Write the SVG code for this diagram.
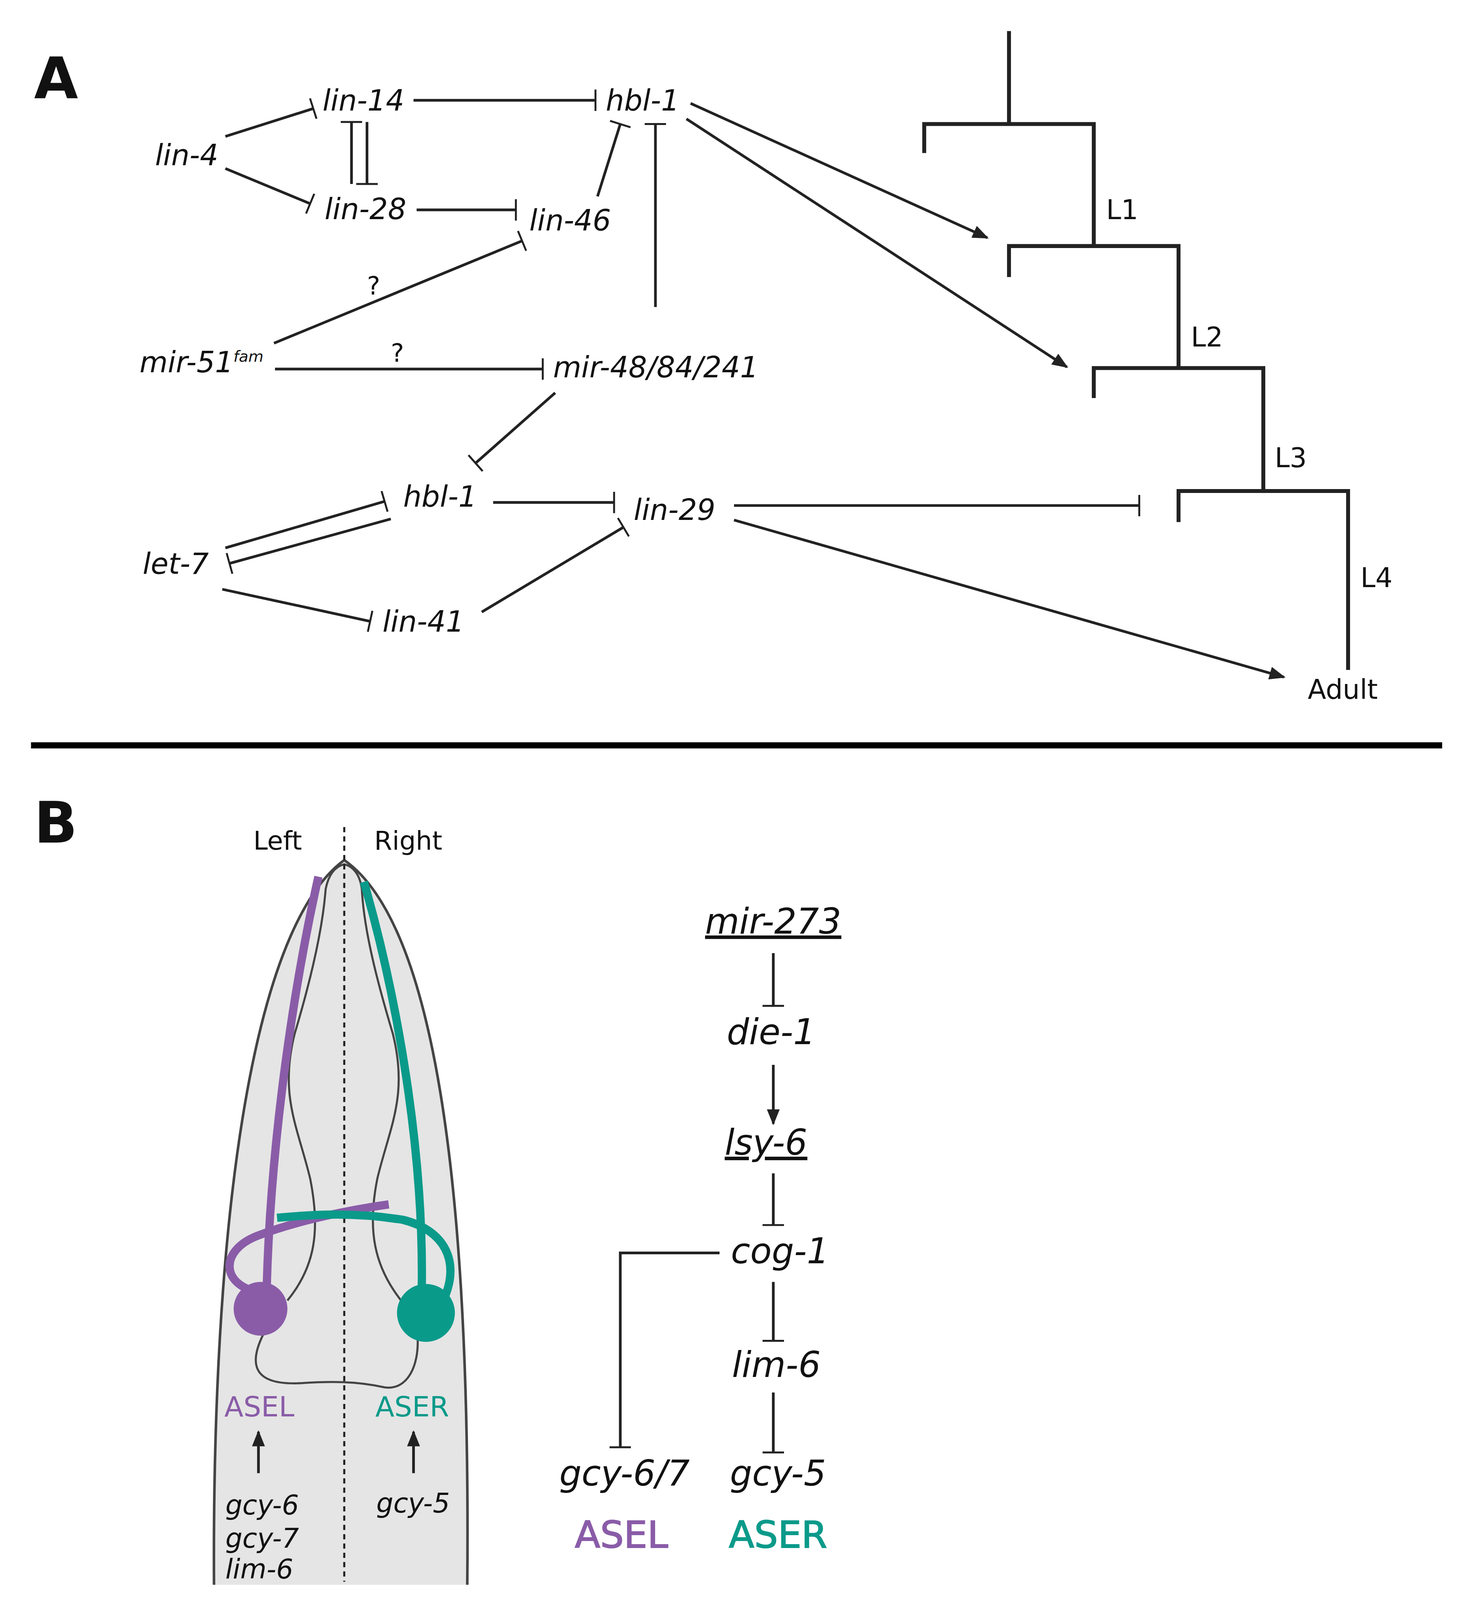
<svg xmlns="http://www.w3.org/2000/svg" width="3758" height="4135" viewBox="0 0 3758 4135">
<style>
.t{font-family:"DejaVu Sans",sans-serif;fill:#111}
.i{font-style:italic;font-size:28px}
.r{font-size:26px}
.ln{stroke:#222;stroke-width:2.6;fill:none}
.tr{stroke:#222;stroke-width:3.8;fill:none}
.p{fill:#8a5ca8}.g{fill:#0a9a8a}
</style>
<defs>
<marker id="ah" viewBox="0 0 10 10" refX="9" refY="5" markerWidth="6" markerHeight="6" orient="auto" markerUnits="strokeWidth"><path d="M0,1L10,5L0,9z" fill="#222"/></marker>
<marker id="bar" viewBox="0 0 4 10" refX="2" refY="5" markerWidth="3.2" markerHeight="8" orient="auto" markerUnits="strokeWidth"><path d="M2,0V10" stroke="#222" stroke-width="0.9"/></marker>
</defs>
<rect width="3758" height="4135" fill="#fff"/>
<g transform="scale(2.6465)">
<text class="t" x="33" y="95" font-size="55" font-weight="bold">A</text>
<text class="t" x="33" y="815" font-size="55" font-weight="bold">B</text>
<g id="nodesA" class="t i">
<text id="lin4" x="150" y="160">lin-4</text>
<text id="lin14" x="312" y="107">lin-14</text>
<text id="lin28" x="314" y="212">lin-28</text>
<text id="hbl1a" x="586" y="107">hbl-1</text>
<text id="lin46" x="512" y="223">lin-46</text>
<text id="mir51" x="135" y="360">mir-51<tspan font-size="15" dy="-10">fam</tspan></text>
<text id="mir48" x="535" y="365">mir-48/84/241</text>
<text id="hbl1b" x="390" y="490">hbl-1</text>
<text id="lin29" x="613" y="503">lin-29</text>
<text id="let7" x="138" y="555">let-7</text>
<text id="lin41" x="370" y="611">lin-41</text>
</g>
<g id="connectorsA">
<path class="ln" marker-end="url(#bar)" d="M218,132L303,105"/>
<path class="ln" marker-end="url(#bar)" d="M218,163L300,197"/>
<path class="ln" marker-end="url(#bar)" d="M340,178V118"/>
<path class="ln" marker-end="url(#bar)" d="M355,118V178"/>
<path class="ln" marker-end="url(#bar)" d="M400,97H576"/>
<path class="ln" marker-end="url(#bar)" d="M403,203H499"/>
<path class="ln" marker-end="url(#bar)" d="M578,190L600,120"/>
<path class="ln" marker-end="url(#bar)" d="M634,297V120"/>
<path class="ln" marker-end="url(#bar)" d="M265,332L505,233"/>
<path class="ln" marker-end="url(#bar)" d="M266,357H525"/>
<path class="ln" marker-end="url(#bar)" d="M537,380L460,448"/>
<path class="ln" marker-end="url(#bar)" d="M378,502L222,545"/>
<path class="ln" marker-end="url(#bar)" d="M218,530L372,485"/>
<path class="ln" marker-end="url(#bar)" d="M215,570L358,601"/>
<path class="ln" marker-end="url(#bar)" d="M477,486H594"/>
<path class="ln" marker-end="url(#bar)" d="M466,592L603,510"/>
<path class="ln" marker-end="url(#bar)" d="M710,489H1102"/>
<path class="ln" marker-end="url(#ah)" d="M710,503L1242,655"/>
<path class="ln" marker-end="url(#ah)" d="M668,100L955,230"/>
<path class="ln" marker-end="url(#ah)" d="M664,115L1032,355"/>
<text class="t" x="355" y="285" font-size="24">?</text>
<text class="t" x="378" y="350" font-size="24">?</text>
</g>
<g id="tree">
<path class="tr" d="M976,30V120M894,148V120H1058V238M976,268V238H1140V356M1058,385V356H1222V475M1140,505V475H1304V648"/>
<text class="t r" x="1070" y="212">L1</text>
<text class="t r" x="1152" y="335">L2</text>
<text class="t r" x="1233" y="452">L3</text>
<text class="t r" x="1316" y="568">L4</text>
<text class="t r" x="1265" y="676">Adult</text>
</g>
<path d="M30,721H1395" stroke="#000" stroke-width="6"/>
<g id="head">
<path d="M207,1533C205,1200 240,900 333,832C430,900 455,1200 452,1533" fill="#e5e5e5" stroke="#444" stroke-width="2.5"/>
<path d="M278,1258C305,1225 310,1190 300,1140C288,1090 270,1060 285,1000C300,950 312,900 315,860C318,845 325,838 333,836C341,838 348,845 350,860C352,900 365,950 380,1000C395,1060 377,1090 365,1140C355,1190 362,1225 388,1258" fill="none" stroke="#444" stroke-width="2"/>
<path d="M255,1290C240,1320 245,1340 290,1338C320,1336 345,1336 372,1342C395,1345 405,1320 404,1295" fill="none" stroke="#444" stroke-width="2"/>
<path d="M333,800V1530" stroke="#222" stroke-width="2" stroke-dasharray="5,4"/>
<path d="M258,1245C262,1100 285,950 308,848" stroke="#8a5ca8" stroke-width="8" fill="none"/>
<path d="M252,1250C215,1245 210,1210 250,1195C290,1180 340,1170 376,1165" stroke="#8a5ca8" stroke-width="8" fill="none"/>
<circle class="p" cx="252" cy="1266" r="26"/>
<path d="M408,1245C410,1100 380,950 352,853" stroke="#0a9a8a" stroke-width="8" fill="none"/>
<path d="M430,1255C445,1220 430,1190 390,1180C340,1172 300,1175 268,1178" stroke="#0a9a8a" stroke-width="8" fill="none"/>
<circle class="g" cx="412" cy="1270" r="28"/>
<text class="t" x="245" y="822" font-size="25">Left</text>
<text class="t" x="362" y="822" font-size="25">Right</text>
<text class="t p" x="217" y="1370" font-size="27">ASEL</text>
<text class="t g" x="363" y="1370" font-size="27">ASER</text>
<path class="ln" marker-end="url(#ah)" d="M250,1425V1385"/>
<path class="ln" marker-end="url(#ah)" d="M400,1425V1385"/>
<text class="t" font-style="italic" font-size="26" x="218" y="1465">gcy-6</text>
<text class="t" font-style="italic" font-size="26" x="218" y="1497">gcy-7</text>
<text class="t" font-style="italic" font-size="26" x="218" y="1527">lim-6</text>
<text class="t" font-style="italic" font-size="26" x="364" y="1463">gcy-5</text>
</g>
<g id="nodesB" class="t" font-style="italic" font-size="34">
<text x="682" y="903" text-decoration="underline">mir-273</text>
<text x="703" y="1010">die-1</text>
<text x="701" y="1117" text-decoration="underline">lsy-6</text>
<text x="707" y="1222">cog-1</text>
<text x="708" y="1332">lim-6</text>
<text x="541" y="1437">gcy-6/7</text>
<text x="706" y="1437">gcy-5</text>
</g>
<text class="t p" x="556" y="1497" font-size="36" stroke="#8a5ca8" stroke-width="0.8">ASEL</text>
<text class="t g" x="705" y="1497" font-size="36" stroke="#0a9a8a" stroke-width="0.8">ASER</text>
<g id="connectorsB">
<path class="ln" marker-end="url(#bar)" d="M748,922V973"/>
<path class="ln" marker-end="url(#ah)" d="M748,1030V1087"/>
<path class="ln" marker-end="url(#bar)" d="M748,1135V1185"/>
<path class="ln" marker-end="url(#bar)" d="M696,1212H600V1400"/>
<path class="ln" marker-end="url(#bar)" d="M748,1240V1297"/>
<path class="ln" marker-end="url(#bar)" d="M748,1347V1405"/>
</g>
</g>
</svg>
